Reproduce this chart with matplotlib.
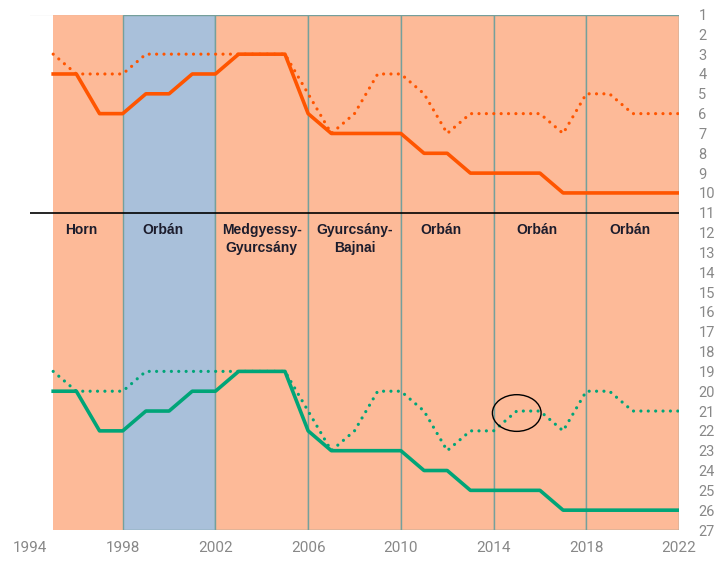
import matplotlib.pyplot as plt
from matplotlib.patches import Rectangle, Ellipse

plt.rcParams['font.family'] = ['Roboto', 'DejaVu Sans']

# Years and ranks
years = list(range(1995, 2023))
orange_solid = [4, 4, 6, 6, 5, 5, 4, 4, 3, 3, 3, 6, 7, 7, 7, 7, 8, 8, 9, 9,
                9, 9, 10, 10, 10, 10, 10, 10]
orange_dotted = [3, 4, 4, 4, 3, 3, 3, 3, 3, 3, 3, 5, 7, 6, 4, 4, 5, 7, 6, 6,
                 6, 6, 7, 5, 5, 6, 6, 6]
green_solid = [20, 20, 22, 22, 21, 21, 20, 20, 19, 19, 19, 22, 23, 23, 23, 23,
               24, 24, 25, 25, 25, 25, 26, 26, 26, 26, 26, 26]
green_dotted = [19, 20, 20, 20, 19, 19, 19, 19, 19, 19, 19, 21, 23, 22, 20, 20,
                21, 23, 22, 22, 21, 21, 22, 20, 20, 21, 21, 21]

# Government periods
period_start = [1995, 1998, 2002, 2006, 2010, 2014, 2018]
period_end = [1998, 2002, 2006, 2010, 2014, 2018, 2022]
period_name = ['Horn', 'Orbán', 'Medgyessy-\nGyurcsány', 'Gyurcsány-\nBajnai',
               'Orbán', 'Orbán', 'Orbán']
period_label_x = [1996.2, 1999.75, 2004.0, 2008.0, 2011.75, 2015.85, 2019.9]

salmon = '#fdba98'
blue = '#a9c0da'
edge = '#74a09c'
orange = '#ff5500'
green = '#00a578'

fig = plt.figure(figsize=(7.18, 5.66), dpi=100)
ax = fig.add_axes([30 / 718, 36 / 566, 649 / 718, 515.5 / 566])

for i, (s, e) in enumerate(zip(period_start, period_end)):
    col = blue if i == 1 else salmon
    ec = 'none' if i == 0 else edge
    ax.add_patch(Rectangle((s, 1), e - s, 26, facecolor=col, edgecolor=ec,
                           linewidth=1, zorder=1))

ax.axhline(1, color='#999999', lw=1.5, zorder=2)
ax.axhline(11, color='black', lw=1.2, zorder=2)

ax.plot(years, orange_dotted, color=orange, lw=2.3, ls=(0, (0.01, 2.3)),
        dash_capstyle='round', zorder=3)
ax.plot(years, orange_solid, color=orange, lw=2.6, zorder=4)
ax.plot(years, green_dotted, color=green, lw=2.3, ls=(0, (0.01, 2.3)),
        dash_capstyle='round', zorder=3)
ax.plot(years, green_solid, color=green, lw=2.6, zorder=4)

for x, name in zip(period_label_x, period_name):
    ax.text(x, 11.5, name, ha='center', va='top', fontsize=10,
            fontweight='bold', color='#1c1c2c', linespacing=1.4, zorder=5,
            family=['Liberation Sans', 'DejaVu Sans'])

ax.add_patch(Ellipse((2015.0, 21.1), 2.1, 1.85, fill=False, edgecolor='black',
                     lw=1, zorder=5))

ax.set_xlim(1994, 2022)
ax.set_ylim(27, 1)
ax.set_xticks(range(1994, 2023, 4))
ax.set_yticks(range(1, 28))
ax.yaxis.tick_right()
ax.tick_params(axis='y', length=0, pad=14, labelsize=10.5, labelcolor='#888888')
ax.tick_params(axis='x', length=0, pad=8, labelsize=11, labelcolor='#888888')
for lab in ax.get_yticklabels():
    lab.set_horizontalalignment('left')
for sp in ax.spines.values():
    sp.set_visible(False)
ax.set_facecolor('white')

fig.savefig('out.png', dpi=100)
